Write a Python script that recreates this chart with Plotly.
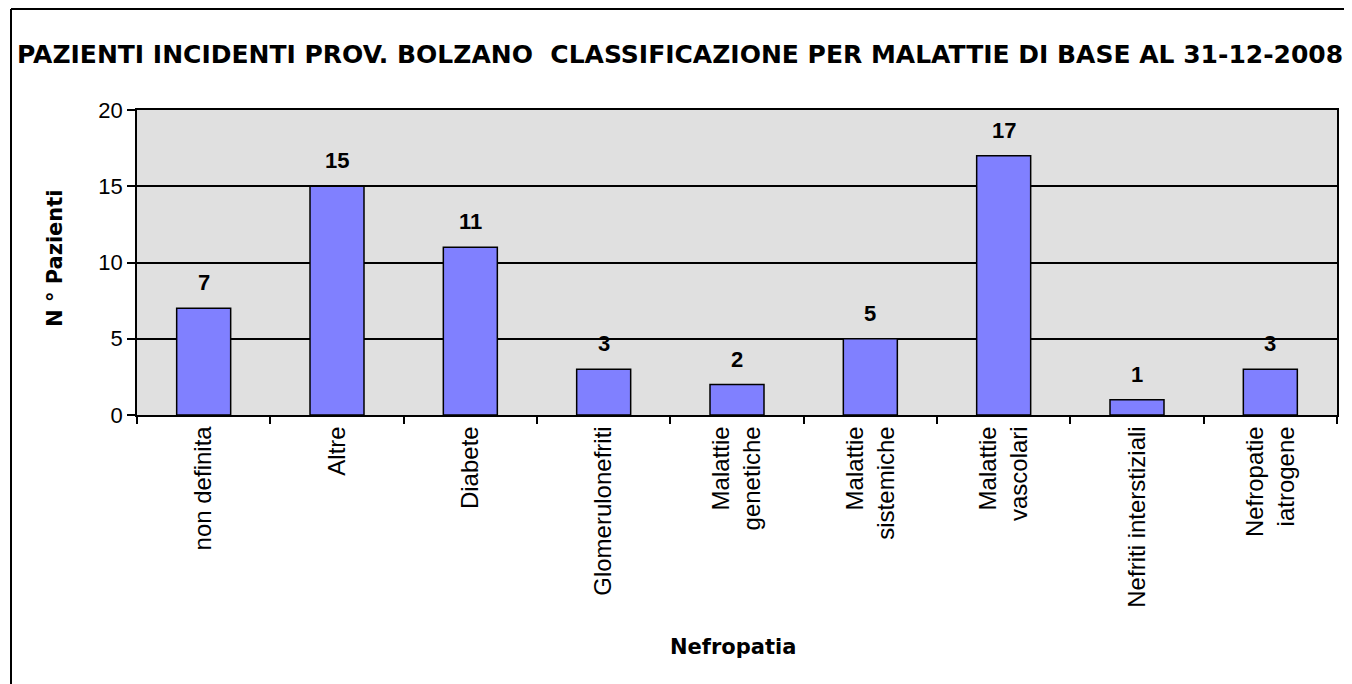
import plotly.graph_objects as go

categories = ["non definita", "Altre", "Diabete", "Glomerulonefriti",
              "Malattie<br>genetiche", "Malattie<br>sistemiche", "Malattie<br>vascolari",
              "Nefriti interstiziali", "Nefropatie<br>iatrogene"]
values = [7, 15, 11, 3, 2, 5, 17, 1, 3]
y_ticks = [0, 5, 10, 15, 20]

title_text = "PAZIENTI INCIDENTI PROV. BOLZANO  CLASSIFICAZIONE PER MALATTIE DI BASE AL 31-12-2008"
x_title = "Nefropatia"
y_title = "N ° Pazienti"

W, H = 1344, 676
L, R, T, B = 129, 15, 102, 269
PW, PH = W - L - R, H - T - B


def px(x):
    return (x - L) / PW


def py(y):
    return (H - B - y) / PH


fig = go.Figure(go.Bar(
    x=categories, y=values,
    marker=dict(color="#8080FF", line=dict(color="black", width=1.5)),
))

# value labels above the bars
for c, v in zip(categories, values):
    fig.add_annotation(x=c, y=v, xref="x", yref="y", text="<b>%d</b>" % v,
                       showarrow=False, yanchor="bottom", yshift=11,
                       font=dict(family="Liberation Sans, Arial", size=22, color="black"))

fig.update_layout(
    width=W, height=H,
    margin=dict(l=L, r=R, t=T, b=B),
    paper_bgcolor="white", plot_bgcolor="#E0E0E0",
    bargap=0.595, showlegend=False,
    font=dict(family="Liberation Sans, Arial", color="black"),
)
fig.add_annotation(text="<b>" + title_text + "</b>", xref="paper", yref="paper",
                   x=px(7), y=py(46), xanchor="left", yanchor="middle", showarrow=False,
                   font=dict(size=25, family="DejaVu Sans", color="black"))
fig.add_annotation(text="<b>" + y_title + "</b>", xref="paper", yref="paper",
                   x=px(47), y=py(250), xanchor="center", yanchor="middle", showarrow=False,
                   textangle=-90, font=dict(size=21, family="DejaVu Sans", color="black"))
fig.add_annotation(text="<b>" + x_title + "</b>", xref="paper", yref="paper",
                   x=px(725), y=py(639), xanchor="center", yanchor="middle", showarrow=False,
                   font=dict(size=21, family="DejaVu Sans", color="black"))

fig.update_xaxes(
    showline=True, linecolor="black", linewidth=1.5, mirror=True,
    ticks="outside", ticklen=7, tickcolor="black", tickwidth=1.5,
    tickson="boundaries", tickangle=-90,
    tickfont=dict(size=24, family="Liberation Sans, Arial"),
    showgrid=False,
)
fig.update_yaxes(
    range=[0, 20], tickvals=y_ticks,
    showline=True, linecolor="black", linewidth=1.5, mirror=True,
    ticks="outside", ticklen=8, tickcolor="black", tickwidth=1.5,
    showgrid=True, gridcolor="black", gridwidth=1.5,
    zeroline=False,
    tickfont=dict(size=22, family="Liberation Sans, Arial"),
)

# outer frame lines (top and left) of the original image
fig.add_shape(type="line", xref="paper", yref="paper",
              x0=px(3), x1=px(W), y0=py(1), y1=py(1),
              line=dict(color="black", width=2))
fig.add_shape(type="line", xref="paper", yref="paper",
              x0=px(3), x1=px(3), y0=py(1), y1=py(H),
              line=dict(color="black", width=2))

fig.write_html("out.html")
